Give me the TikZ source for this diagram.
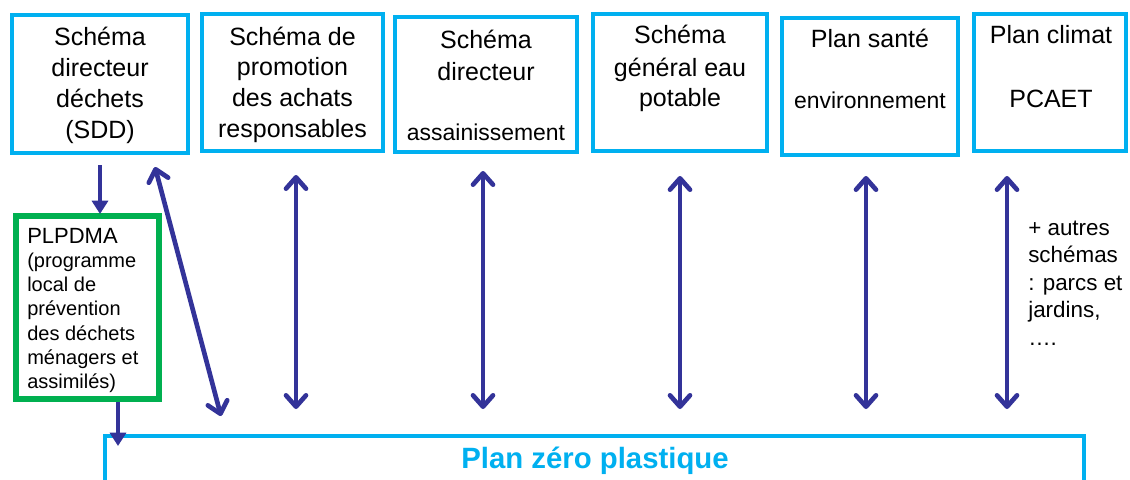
\documentclass[tikz,border=0pt]{standalone}
\usepackage{fontspec}
\setmainfont{Liberation Sans}
\usetikzlibrary{arrows.meta}
\definecolor{boxcyan}{RGB}{0,176,240}
\definecolor{boxgreen}{RGB}{0,176,80}
\definecolor{arrowblue}{RGB}{51,51,153}
\tikzset{
  planbox/.style={draw=boxcyan, line width=3pt, rectangle, inner sep=0pt},
  greenbox/.style={draw=boxgreen, line width=4.5pt, rectangle, inner sep=0pt},
  bigtxt/.style={anchor=base, inner sep=0pt, font=\fontsize{18.75}{22}\selectfont},
  smalltxt/.style={anchor=base, inner sep=0pt, font=\fontsize{17.2}{20}\selectfont},
  plptxt/.style={anchor=base west, inner sep=0pt, font=\fontsize{15}{18}\selectfont},
  othtxt/.style={anchor=base west, inner sep=0pt, font=\fontsize{16.8}{20}\selectfont},
  dblarrow/.style={draw=arrowblue, line width=3.5pt,
     {Straight Barb[length=8.5pt,width=15pt,line join=round,line cap=round]}-{Straight Barb[length=8.5pt,width=15pt,line join=round,line cap=round]}},
  downarrow/.style={draw=arrowblue, line width=3.2pt, -{Triangle[length=10pt,width=12pt]}}
}
\begin{document}
\begin{tikzpicture}[x=0.75pt,y=-0.75pt]
\useasboundingbox[fill=white] (0,0) rectangle (1130,479);

% top boxes
\node[planbox, minimum width=176*0.75pt, minimum height=138*0.75pt] (b1) at (100,84) {};
\node[planbox, minimum width=181*0.75pt, minimum height=137*0.75pt] (b2) at (292.5,82.5) {};
\node[planbox, minimum width=182*0.75pt, minimum height=135*0.75pt] (b3) at (486,84.5) {};
\node[planbox, minimum width=174*0.75pt, minimum height=137*0.75pt] (b4) at (680,82.5) {};
\node[planbox, minimum width=176*0.75pt, minimum height=137*0.75pt] (b5) at (870,86.5) {};
\node[planbox, minimum width=152*0.75pt, minimum height=137*0.75pt] (b6) at (1050,82.5) {};

% box texts
\node[bigtxt] (b1a) at (100,45) {Schéma};
\node[bigtxt] (b1b) at (100,76) {directeur};
\node[bigtxt] (b1c) at (100,107) {déchets};
\node[bigtxt] (b1d) at (100,138) {(SDD)};

\node[bigtxt] (b2a) at (292.5,45) {Schéma de};
\node[bigtxt] (b2b) at (292.5,75) {promotion};
\node[bigtxt] (b2c) at (292.5,106) {des achats};
\node[bigtxt] (b2d) at (292.5,137) {responsables};

\node[bigtxt] (b3a) at (486,48) {Schéma};
\node[bigtxt] (b3b) at (486,80) {directeur};
\node[smalltxt] (b3c) at (486,140) {assainissement};

\node[bigtxt] (b4a) at (680,43) {Schéma};
\node[bigtxt] (b4b) at (680,76) {général eau};
\node[bigtxt] (b4c) at (680,106) {potable};

\node[bigtxt] (b5a) at (870,47) {Plan santé};
\node[smalltxt] (b5b) at (870,108) {environnement};

\node[bigtxt] (b6a) at (1051,43) {Plan climat};
\node[bigtxt] (b6b) at (1051,107) {PCAET};

% PLPDMA box
\node[greenbox, minimum width=143*0.75pt, minimum height=183*0.75pt] (plp) at (87.5,307.5) {};
\node[plptxt, font=\fontsize{16.5}{18}\selectfont] (p1) at (27,243) {PLPDMA};
\node[plptxt] (p2) at (27,267) {(programme};
\node[plptxt] (p3) at (27,291) {local de};
\node[plptxt] (p4) at (27,315) {prévention};
\node[plptxt] (p5) at (27,340) {des déchets};
\node[plptxt] (p6) at (27,364) {ménagers et};
\node[plptxt] (p7) at (27,388) {assimilés)};

% other schemes
\node[othtxt] (o1) at (1028,235) {+ autres};
\node[othtxt] (o2) at (1028,262) {schémas};
\node[othtxt] (o3) at (1028,290) {: parcs et};
\node[othtxt] (o4) at (1028,317) {jardins,};
\node[othtxt] (o5) at (1028,345) {….};

% bottom box
\node[planbox, minimum width=979.5*0.75pt, minimum height=100*0.75pt] (zp) at (594.5,486) {};
\node[anchor=base, inner sep=0pt, text=boxcyan, font=\fontsize{22}{26}\selectfont\bfseries] (zpt) at (595,468) {Plan zéro plastique};

% arrow end points
\coordinate (d1s) at (100,165);
\coordinate (d1e) at (100,214);
\coordinate (d2s) at (118,402);
\coordinate (d2e) at (118,446);
\coordinate (g1s) at (155,167);
\coordinate (g1e) at (221,416);
\coordinate (v1s) at (296,175);
\coordinate (v1e) at (296,409);
\coordinate (v2s) at (483,171);
\coordinate (v2e) at (483,409);
\coordinate (v3s) at (680,176);
\coordinate (v3e) at (680,409);
\coordinate (v4s) at (866,176);
\coordinate (v4e) at (866,409);
\coordinate (v5s) at (1007,176);
\coordinate (v5e) at (1007,409);

% arrows
\draw[downarrow] (d1s) -- (d1e);
\draw[downarrow] (d2s) -- (d2e);
\draw[dblarrow] (g1s) -- (g1e);
\draw[dblarrow] (v1s) -- (v1e);
\draw[dblarrow] (v2s) -- (v2e);
\draw[dblarrow] (v3s) -- (v3e);
\draw[dblarrow] (v4s) -- (v4e);
\draw[dblarrow] (v5s) -- (v5e);
\end{tikzpicture}
\end{document}
